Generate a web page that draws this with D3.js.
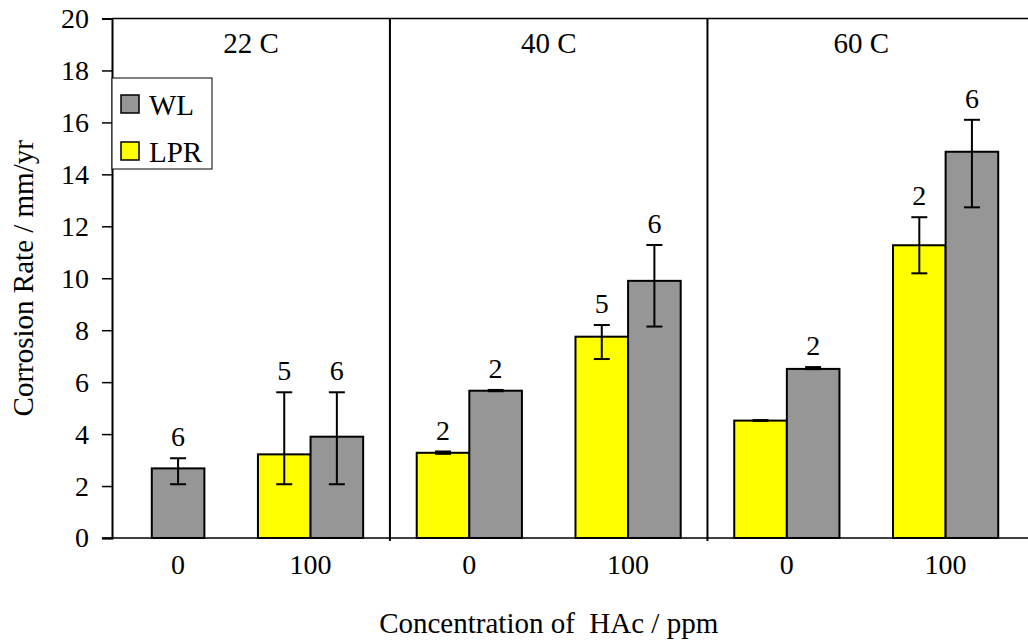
<!DOCTYPE html>
<meta charset="utf-8">
<style>
body { margin: 0; background: #fff; }
svg text { font-family: "Liberation Serif", "Times New Roman", Times, "DejaVu Serif", serif; fill: #000; }
</style>
<svg width="1028" height="643"></svg>
<script src="https://d3js.org/d3.v7.min.js"></script>
<script>

// categories along the x axis
var catTemp = ["22 C", "22 C", "40 C", "40 C", "60 C", "60 C"];
var catConc = ["0", "100", "0", "100", "0", "100"];
var temps = ["22 C", "40 C", "60 C"];
var series = ["LPR", "WL"];

// LPR (yellow) - mean, error bar low / high, number of runs
var lprMean = [null, 3.22, 3.28, 7.75, 4.52, 11.27];
var lprLow  = [null, 2.07, 3.24, 6.89, 4.51, 10.19];
var lprHigh = [null, 5.61, 3.33, 8.20, 4.54, 12.35];
var lprN    = [null, 5, 2, 5, null, 2];

// WL (grey)
var wlMean = [2.68, 3.90, 5.67, 9.90, 6.51, 14.87];
var wlLow  = [2.07, 2.07, 5.65, 8.14, 6.50, 12.73];
var wlHigh = [3.07, 5.61, 5.70, 11.28, 6.58, 16.10];
var wlN    = [6, 6, 2, 6, 2, 6];

var yTicks = [0, 2, 4, 6, 8, 10, 12, 14, 16, 18, 20];

var colors = {LPR: "#ffff00", WL: "#969696"};
var serif = "'Liberation Serif', 'Times New Roman', Times, 'DejaVu Serif', serif";

var svg = d3.select("svg"),
    plotLeft = 112, plotRight = 1028,
    plotTop = 18.5, plotBottom = 538;

var cats = d3.range(catTemp.length);

var x0 = d3.scaleBand().domain(cats).range([72.4, 1025]);
var x1 = d3.scaleBand().domain(series).range([0, x0.bandwidth()]).paddingOuter(0.509);
var y = d3.scaleLinear().domain([0, 20]).range([plotBottom, plotTop]);

// build bar records
var bars = [];
cats.forEach(function(i) {
  if (lprMean[i] != null)
    bars.push({cat: i, s: "LPR", v: lprMean[i], lo: lprLow[i], hi: lprHigh[i], n: lprN[i]});
  bars.push({cat: i, s: "WL", v: wlMean[i], lo: wlLow[i], hi: wlHigh[i], n: wlN[i]});
});

// top border
svg.append("line")
  .attr("x1", plotLeft).attr("x2", plotRight)
  .attr("y1", plotTop).attr("y2", plotTop)
  .attr("stroke", "#000").attr("stroke-width", 1.5);

// panel dividers (between temperature groups)
var dividers = [];
for (var i = 1; i < cats.length; i++) {
  if (catTemp[i] != catTemp[i-1]) dividers.push(x0(i));
}
svg.selectAll(".divider").data(dividers).enter().append("line")
  .attr("class", "divider")
  .attr("x1", function(d) { return d; }).attr("x2", function(d) { return d; })
  .attr("y1", plotTop).attr("y2", plotBottom + 3)
  .attr("stroke", "#000").attr("stroke-width", 2);

// panel titles
var edges = [plotLeft].concat(dividers).concat([x0.range()[1] - 10]);
svg.selectAll(".ptitle").data(temps).enter().append("text")
  .attr("class", "ptitle")
  .attr("x", function(d, i) { return (edges[i] + edges[i+1]) / 2; })
  .attr("y", 53)
  .attr("text-anchor", "middle")
  .style("font-size", "29px")
  .text(function(d) { return d; });

// bars
function barX(d) { return x0(d.cat) + x1(d.s); }

svg.selectAll(".bar").data(bars).enter().append("rect")
  .attr("class", "bar")
  .attr("x", barX)
  .attr("y", function(d) { return y(d.v); })
  .attr("width", x1.bandwidth())
  .attr("height", function(d) { return y(0) - y(d.v); })
  .attr("fill", function(d) { return colors[d.s]; })
  .attr("stroke", "#000").attr("stroke-width", 2);

// error bars
var eb = svg.selectAll(".err").data(bars).enter().append("g").attr("class", "err")
  .attr("stroke", "#000").attr("stroke-width", 2);
eb.append("line")
  .attr("x1", function(d) { return barX(d) + x1.bandwidth() / 2; })
  .attr("x2", function(d) { return barX(d) + x1.bandwidth() / 2; })
  .attr("y1", function(d) { return y(d.lo); })
  .attr("y2", function(d) { return y(d.hi); });
["lo", "hi"].forEach(function(k) {
  eb.append("line")
    .attr("x1", function(d) { return barX(d) + x1.bandwidth() / 2 - 8; })
    .attr("x2", function(d) { return barX(d) + x1.bandwidth() / 2 + 8; })
    .attr("y1", function(d) { return y(d[k]); })
    .attr("y2", function(d) { return y(d[k]); });
});

// number of runs above error bars
svg.selectAll(".nlab").data(bars.filter(function(d) { return d.n != null; })).enter().append("text")
  .attr("class", "nlab")
  .attr("x", function(d) { return barX(d) + x1.bandwidth() / 2; })
  .attr("y", function(d) { return y(d.hi) - 12; })
  .attr("text-anchor", "middle")
  .style("font-size", "28px")
  .text(function(d) { return d.n; });

// y axis
var yAxis = svg.append("g")
  .attr("transform", "translate(" + plotLeft + ",0)")
  .call(d3.axisLeft(y).tickValues(yTicks).tickSize(10).tickPadding(13));
yAxis.attr("font-family", null);
yAxis.select(".domain").attr("stroke-width", 2);
yAxis.selectAll(".tick line").attr("stroke-width", 1.5);
yAxis.selectAll("text")
  .style("font-family", serif)
  .style("font-size", "28px");

// x axis line
svg.append("line")
  .attr("x1", plotLeft - 10).attr("x2", plotRight)
  .attr("y1", plotBottom).attr("y2", plotBottom)
  .attr("stroke", "#000").attr("stroke-width", 1.5);

// x category labels, centred under the bars that are present
svg.selectAll(".xlab").data(cats).enter().append("text")
  .attr("class", "xlab")
  .attr("x", function(i) {
    var b = bars.filter(function(d) { return d.cat == i; });
    return d3.mean(b, function(d) { return barX(d) + x1.bandwidth() / 2; });
  })
  .attr("y", 574)
  .attr("text-anchor", "middle")
  .style("font-size", "28px")
  .text(function(i) { return catConc[i]; });

// axis titles
svg.append("text")
  .attr("x", (x0.range()[0] + x0.range()[1]) / 2)
  .attr("y", 633)
  .attr("text-anchor", "middle")
  .style("font-size", "29px")
  .style("white-space", "pre")
  .text("Concentration of  HAc / ppm");

svg.append("text")
  .attr("transform", "translate(33," + (plotTop + plotBottom) / 2 + ") rotate(-90)")
  .attr("text-anchor", "middle")
  .style("font-size", "29px")
  .text("Corrosion Rate / mm/yr");

// legend
var legend = svg.append("g").attr("transform", "translate(" + plotLeft + ",78)");
legend.append("rect")
  .attr("width", 100).attr("height", 91)
  .attr("fill", "#fff").attr("stroke", "#000").attr("stroke-width", 1);
var legItems = ["WL", "LPR"];
legItems.forEach(function(s, i) {
  legend.append("rect")
    .attr("x", 9).attr("y", 17 + i * 47)
    .attr("width", 18).attr("height", 18)
    .attr("fill", colors[s]).attr("stroke", "#000").attr("stroke-width", 1.5);
  legend.append("text")
    .attr("x", 37).attr("y", 37 + i * 47)
    .style("font-size", "29px")
    .text(s);
});

svg.selectAll("text").style("font-family", serif);

</script>
